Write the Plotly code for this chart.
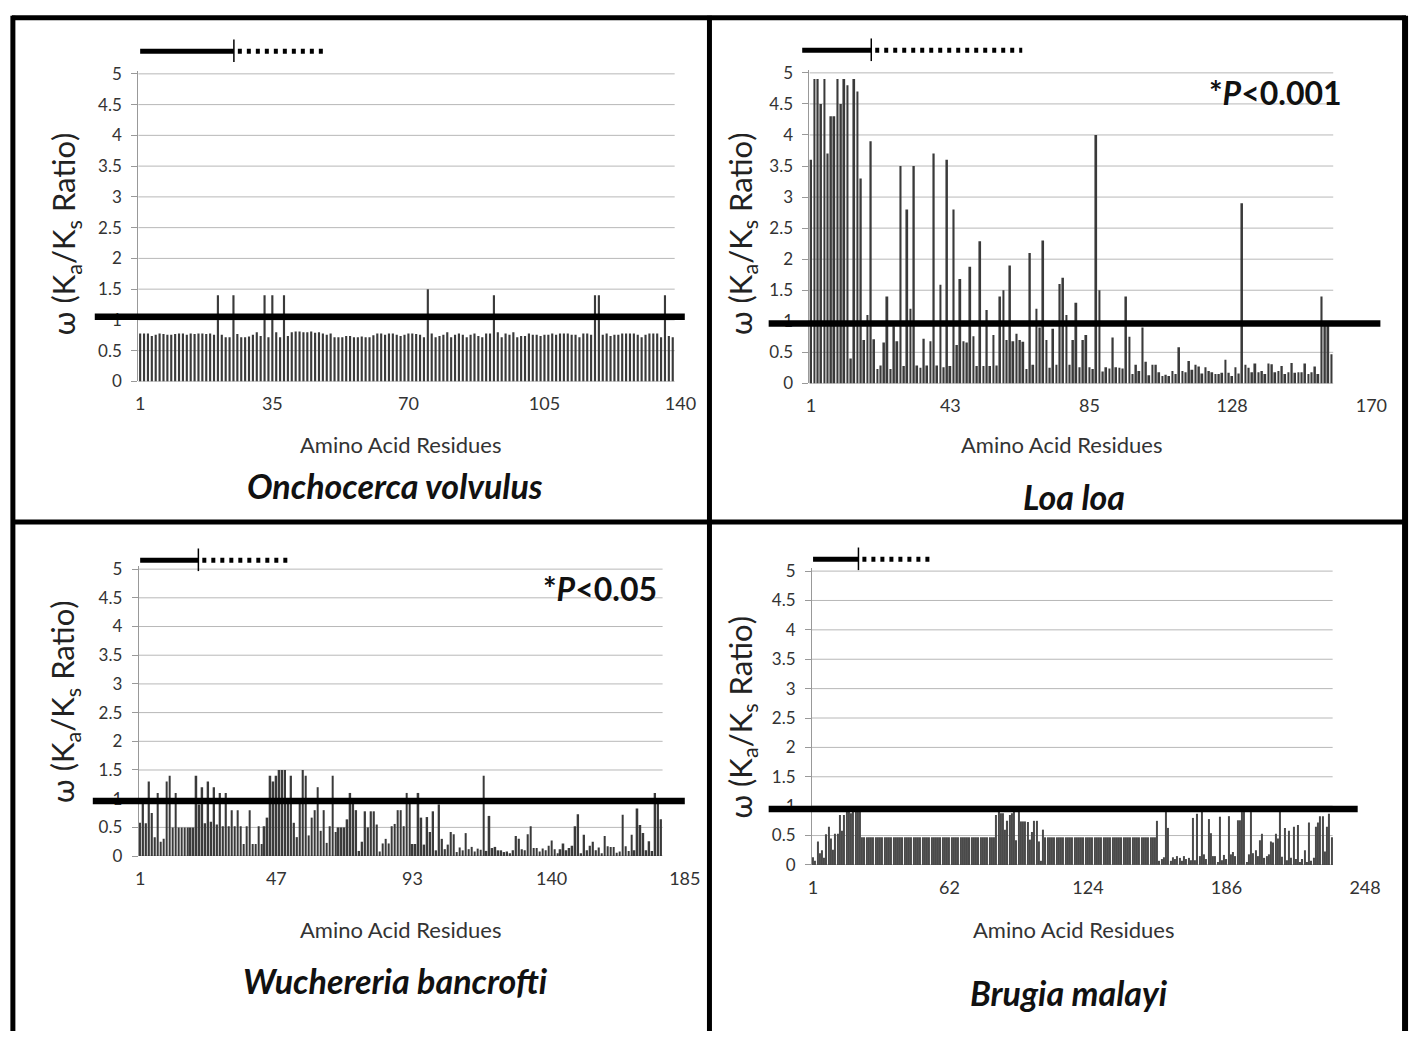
import plotly.graph_objects as go

W, H = 1424, 1041
FONT = "Lato"

# ---------------- data (omega = Ka/Ks per residue) ----------------
species = ["Onchocerca volvulus", "Loa loa", "Wuchereria bancrofti", "Brugia malayi"]
p_labels = [None, "*P<0.001", "*P<0.05", None]

ov_ticks = [1, 35, 70, 105, 140]
ll_ticks = [1, 43, 85, 128, 170]
wb_ticks = [1, 47, 93, 140, 185]
bm_ticks = [1, 62, 124, 186, 248]

y_ticks = [0, 0.5, 1, 1.5, 2, 2.5, 3, 3.5, 4, 4.5, 5]
y_ticktext = ["0", "0.5", "1", "1.5", "2", "2.5", "3", "3.5", "4", "4.5", "5"]

# threshold (omega ~ 1) line as drawn in each panel
thresholds = [1.05, 0.965, 0.96, 0.95]

ov_omega = [
    0.78, 0.78, 0.78, 0.74, 0.76, 0.78, 0.77, 0.76, 0.76, 0.77,
    0.78, 0.78, 0.76, 0.78, 0.77, 0.78, 0.78, 0.77, 0.78, 0.76,
    1.40, 0.76, 0.72, 0.72, 1.40, 0.77, 0.72, 0.72, 0.73, 0.76,
    0.80, 0.74, 1.40, 0.72, 1.40, 0.80, 0.72, 1.40, 0.74, 0.80,
    0.81, 0.81, 0.80, 0.80, 0.81, 0.79, 0.80, 0.78, 0.76, 0.78,
    0.72, 0.72, 0.72, 0.74, 0.74, 0.72, 0.72, 0.73, 0.72, 0.72,
    0.75, 0.78, 0.78, 0.76, 0.78, 0.78, 0.76, 0.74, 0.76, 0.78,
    0.78, 0.77, 0.76, 0.72, 1.50, 0.78, 0.72, 0.74, 0.76, 0.80,
    0.72, 0.76, 0.78, 0.76, 0.72, 0.76, 0.78, 0.74, 0.72, 0.78,
    0.78, 1.40, 0.80, 0.72, 0.78, 0.76, 0.80, 0.72, 0.74, 0.74,
    0.78, 0.76, 0.76, 0.74, 0.76, 0.76, 0.78, 0.76, 0.78, 0.78,
    0.78, 0.76, 0.76, 0.72, 0.78, 0.78, 0.76, 1.40, 1.40, 0.76,
    0.78, 0.74, 0.76, 0.76, 0.78, 0.78, 0.78, 0.78, 0.76, 0.72,
    0.76, 0.78, 0.78, 0.78, 0.72, 1.40, 0.74, 0.72,
]

ll_omega = [
    3.6, 4.9, 4.9, 4.5, 4.9, 3.7, 4.3, 4.3, 4.9, 4.5,
    4.9, 4.8, 0.4, 4.9, 4.7, 3.3, 0.7, 1.1, 3.9, 0.71,
    0.23, 0.29, 0.66, 1.4, 0.23, 0.92, 0.68, 3.5, 0.28, 2.8,
    1.2, 3.5, 0.29, 0.25, 0.72, 0.29, 0.68, 3.7, 0.29, 1.59,
    0.26, 3.6, 0.28, 2.8, 0.62, 1.68, 0.68, 0.66, 1.88, 0.76,
    0.28, 2.29, 0.28, 1.18, 0.28, 0.78, 0.29,
    1.4, 1.5, 0.7, 1.9, 0.68, 0.8, 0.7, 0.67, 0.23, 2.1,
    0.3, 1.2, 0.9, 2.3, 0.7, 0.25, 0.88, 0.3, 1.6, 1.7,
    1.1, 0.3, 0.7, 1.3, 0.26, 0.7, 0.78, 0.26, 0.23, 4.0,
    1.5, 0.19, 0.26, 0.24, 0.74, 0.26, 0.25, 0.24,
    1.4, 0.75, 0.15, 0.3, 0.2, 0.9, 0.35, 0.13, 0.3, 0.3,
    0.18, 0.12, 0.14, 0.12, 0.2, 0.15, 0.58, 0.2,
    0.18, 0.36, 0.22, 0.3, 0.27, 0.16, 0.26, 0.2, 0.18,
    0.15, 0.15, 0.17, 0.38, 0.17, 0.12, 0.26, 0.16, 2.9,
    0.3, 0.25, 0.18, 0.32, 0.18, 0.2, 0.15, 0.32, 0.31,
    0.18, 0.2, 0.28, 0.15, 0.18, 0.33, 0.17, 0.18,
    0.18, 0.32, 0.15, 0.18, 0.27, 0.15, 1.4, 0.95, 0.95,
    0.47,
]

wb_omega = [
    0.58, 0.93, 0.57, 1.3, 0.75, 0.33, 1.1, 0.25, 0.3, 1.3,
    1.4, 0.5, 1.1, 0.5, 0.5, 0.5, 0.5, 0.5, 0.5, 1.4,
    0.9, 1.2, 0.57, 1.3, 0.6, 1.2, 0.55, 1.1, 0.52, 1.1,
    0.52, 0.8, 0.52, 0.8, 0.52, 0.21, 0.52, 0.8, 0.21,
    0.21, 0.52, 0.21, 0.52, 0.67, 1.4, 1.3, 1.4, 1.5, 1.5,
    1.5, 0.95, 1.4, 0.58, 0.33, 1.0, 1.5, 1.4, 0.36, 0.67,
    0.8, 1.2, 0.44, 0.8, 0.23, 0.52, 1.4, 0.42, 0.5,
    0.5, 0.5, 0.64, 1.1, 0.98, 0.8, 0.09, 0.25, 0.78,
    0.5, 0.78, 0.78, 0.55, 0.08, 0.22, 0.3, 0.22, 0.52,
    0.56, 0.8, 0.8, 0.52, 1.1, 0.95, 0.21, 0.21, 1.1, 0.67,
    0.2, 0.68, 0.42, 0.78, 0.1, 0.9, 0.3, 0.12, 0.2, 0.42,
    0.38, 0.07, 0.15, 0.1, 0.4, 0.12, 0.16, 0.08, 0.13,
    0.11, 1.4, 0.09, 0.7, 0.14, 0.16, 0.1, 0.1, 0.07,
    0.08, 0.05, 0.1, 0.35, 0.3, 0.12, 0.1, 0.38, 0.52, 0.14,
    0.14, 0.08, 0.13, 0.1, 0.18, 0.27, 0.12, 0.05, 0.12,
    0.22, 0.1, 0.14, 0.18, 0.52, 0.73, 0.05, 0.37, 0.1, 0.18,
    0.25, 0.1, 0.15, 0.05, 0.35, 0.17, 0.16, 0.16, 0.06,
    0.08, 0.72, 0.17, 0.09, 0.37, 0.1, 0.83, 0.54, 0.4, 0.1,
    0.26, 0.09, 1.1, 0.95, 0.64,
]

bm_omega = [
    0.13, 0.07, 0.4, 0.2, 0.25, 0.12, 0.52, 0.65, 0.45, 0.26,
    0.53, 0.53, 0.85, 0.58, 0.85, 0.93, 0.95, 0.88, 0.93, 0.95,
    0.93, 0.9,
    0.47, 0.47, 0.47, 0.47, 0.47, 0.47, 0.47, 0.47, 0.47, 0.47,
    0.47, 0.47, 0.47, 0.47, 0.47, 0.47, 0.47, 0.47, 0.47, 0.47,
    0.47, 0.47, 0.47, 0.47, 0.47, 0.47, 0.47, 0.47, 0.47, 0.47,
    0.47, 0.47, 0.47, 0.47, 0.47, 0.47, 0.47, 0.47, 0.47, 0.47,
    0.47, 0.47, 0.47, 0.47, 0.47, 0.47, 0.47, 0.47, 0.47, 0.47,
    0.47, 0.47, 0.47, 0.47, 0.47, 0.47, 0.47, 0.47, 0.47, 0.47,
    0.85, 0.95, 0.88, 0.88, 0.6, 0.75, 0.85, 0.88, 0.9, 0.42,
    0.95, 0.74, 0.74, 0.74, 0.73, 0.43, 0.56, 0.75, 0.75, 0.4,
    0.07, 0.6,
    0.47, 0.47, 0.47, 0.47, 0.47, 0.47, 0.47, 0.47, 0.47, 0.47,
    0.47, 0.47, 0.47, 0.47, 0.47, 0.47, 0.47, 0.47, 0.47, 0.47,
    0.47, 0.47, 0.47, 0.47, 0.47, 0.47, 0.47, 0.47, 0.47, 0.47,
    0.47, 0.47, 0.47, 0.47, 0.47, 0.47, 0.47, 0.47, 0.47, 0.47,
    0.47, 0.47, 0.47, 0.47, 0.47, 0.47, 0.47, 0.47, 0.47, 0.47,
    0.75, 0.07, 0.1, 0.13, 0.9, 0.63, 0.07, 0.13, 0.1, 0.15,
    0.12, 0.07, 0.15, 0.1, 0.12, 0.08, 0.8, 0.08, 0.87, 0.15,
    0.95, 0.18, 0.1, 0.78, 0.54, 0.15, 0.15, 0.05, 0.82, 0.08,
    0.17, 0.1, 0.83, 0.18, 0.22, 0.15, 0.76, 0.76, 0.9, 0.9,
    0.05, 0.18, 0.9, 0.2, 0.25, 0.15, 0.42, 0.53, 0.12, 0.15,
    0.18, 0.4, 0.38, 0.53, 0.45, 0.9, 0.14, 0.63, 0.08, 0.58,
    0.12, 0.65, 0.1, 0.68, 0.05, 0.1, 0.25, 0.05, 0.72, 0.07,
    0.12, 0.65, 0.72, 0.83, 0.83, 0.23, 0.65, 0.87, 0.47,
]

omega_sets = [ov_omega, ll_omega, wb_omega, bm_omega]
tick_sets = [ov_ticks, ll_ticks, wb_ticks, bm_ticks]

# ---------------- layout geometry (pixels) ----------------
geom = [
    dict(p1=138, ppc=3.94, y0=380, y5=67, thr_x=(92, 690), ytitle=(62, 230), xtitle=(402, 444),
         sp=(396, 486), sig=(138, 233, 328, 44), pv=None, bw=0.55, col="#3a3a3a"),
    dict(p1=818, ppc=3.36, y0=382, y5=66, thr_x=(775, 1395), ytitle=(748, 230), xtitle=(1072, 444),
         sp=(1084, 497), sig=(809, 879, 1032, 43), pv=(1358, 86), bw=0.55, col="#3a3a3a"),
    dict(p1=138, ppc=3.0, y0=863, y5=571, thr_x=(90, 690), ytitle=(62, 706), xtitle=(402, 938),
         sp=(397, 990), sig=(138, 197, 290, 562), pv=(664, 591), bw=0.55, col="#3a3a3a"),
    dict(p1=820, ppc=2.265, y0=872, y5=573, thr_x=(775, 1372), ytitle=(748, 722), xtitle=(1084, 938),
         sp=(1079, 1002), sig=(820, 866, 938, 561), pv=None, bw=0.5, col="#4a4a4a"),
]


def fx(v):
    return v / W


def fy(v):
    return 1 - v / H


fig = go.Figure()
shapes = []
annotations = []
layout = {}

YTOP = 5.05
for i in range(4):
    k = i + 1
    g = geom[i]
    vals = omega_sets[i]
    ticks = tick_sets[i]
    n = len(vals)
    L = ticks[-1]
    left = g["p1"] - 0.5 * g["ppc"]
    right = g["p1"] + (L - 0.5) * g["ppc"]
    ppu = (g["y0"] - g["y5"]) / 5.0
    ytop_px = g["y0"] - YTOP * ppu
    xa = f"x{k}" if k > 1 else "x"
    ya = f"y{k}" if k > 1 else "y"

    fig.add_trace(go.Bar(
        x=list(range(1, n + 1)), y=vals, xaxis=xa, yaxis=ya, width=g["bw"],
        marker=dict(color=g["col"], line=dict(width=0)), showlegend=False,
    ))
    # category tick marks under the axis
    fig.add_trace(go.Scatter(
        x=[j + 0.5 for j in range(n + 1)], y=[-4.2 / ppu] * (n + 1), xaxis=xa, yaxis=ya,
        mode="markers", cliponaxis=False, showlegend=False, hoverinfo="skip",
        marker=dict(symbol="line-ns", size=8, color="#a0a0a0", line=dict(width=1, color="#a0a0a0")),
    ))

    layout[f"xaxis{k if k > 1 else ''}"] = dict(
        domain=[fx(left), fx(right)], range=[0.5, L + 0.5], anchor=ya,
        tickmode="array", tickvals=ticks, ticktext=[str(t) for t in ticks], ticks="",
        showgrid=False, zeroline=False, showline=False, ticklabelstandoff=10,
        tickfont=dict(family=FONT, size=18, color="#333333"),
    )
    layout[f"yaxis{k if k > 1 else ''}"] = dict(
        domain=[fy(g["y0"]), fy(ytop_px)], range=[0, YTOP], anchor=xa,
        tickmode="array", tickvals=y_ticks, ticktext=y_ticktext, ticks="outside", ticklen=6,
        tickcolor="#999999", showline=True, linecolor="#999999", linewidth=1,
        showgrid=False, zeroline=False, ticklabelstandoff=6,
        tickfont=dict(family=FONT, size=17, color="#333333"),
    )
    # gridlines (only under the bars)
    for yv in y_ticks:
        shapes.append(dict(type="line", xref=xa, yref=ya, x0=0.5, x1=n + 0.5, y0=yv, y1=yv,
                           line=dict(color="#999999" if yv == 0 else "#b8b8b8", width=1), layer="below"))
    # threshold line
    shapes.append(dict(type="line", xref="paper", yref=ya, x0=fx(g["thr_x"][0]), x1=fx(g["thr_x"][1]),
                       y0=thresholds[i], y1=thresholds[i], line=dict(color="black", width=6.5), layer="above"))
    # signal-peptide / domain indicator
    s0, s1, s2, sy = g["sig"]
    shapes.append(dict(type="line", xref="paper", yref="paper", x0=fx(s0), x1=fx(s1), y0=fy(sy), y1=fy(sy),
                       line=dict(color="black", width=5)))
    shapes.append(dict(type="line", xref="paper", yref="paper", x0=fx(s1), x1=fx(s1), y0=fy(sy - 12), y1=fy(sy + 11),
                       line=dict(color="black", width=1.5)))
    shapes.append(dict(type="line", xref="paper", yref="paper", x0=fx(s1 + 4), x1=fx(s2), y0=fy(sy), y1=fy(sy),
                       line=dict(color="black", width=5, dash="4px,5px")))

    annotations.append(dict(xref="paper", yref="paper", x=fx(g["ytitle"][0]), y=fy(g["ytitle"][1]),
                            text="ω (K<sub>a</sub>/K<sub>s</sub> Ratio)", textangle=-90, showarrow=False,
                            font=dict(family=FONT, size=31, color="#222222"), xanchor="center", yanchor="middle"))
    annotations.append(dict(xref="paper", yref="paper", x=fx(g["xtitle"][0]), y=fy(g["xtitle"][1]),
                            text="Amino Acid Residues", showarrow=False,
                            font=dict(family=FONT, size=22, color="#333333"), xanchor="center", yanchor="middle"))
    annotations.append(dict(xref="paper", yref="paper", x=fx(g["sp"][0]), y=fy(g["sp"][1]),
                            text=f"<b><i>{species[i]}</i></b>", showarrow=False,
                            font=dict(family=FONT, size=34, color="#111111"), xanchor="center", yanchor="middle"))
    if p_labels[i]:
        rest = p_labels[i][2:]
        annotations.append(dict(xref="paper", yref="paper", x=fx(g["pv"][0]), y=fy(g["pv"][1]),
                                text=f"<b>*<i>P</i>{rest.replace('<', '&lt;')}</b>", showarrow=False,
                                font=dict(family=FONT, size=32, color="#111111"), xanchor="right", yanchor="middle"))

# panel frame
frame = [
    (8, 10, 1421, 10, 5), (9, 8, 9, 1041, 5), (1420, 8, 1420, 1041, 6),
    (715, 8, 715, 1041, 5), (8, 523, 1421, 523, 5),
]
for x0, y0, x1, y1, w in frame:
    shapes.append(dict(type="line", xref="paper", yref="paper", x0=fx(x0), x1=fx(x1), y0=fy(y0), y1=fy(y1),
                       line=dict(color="black", width=w)))

fig.update_layout(
    width=W, height=H, margin=dict(l=0, r=0, t=0, b=0),
    paper_bgcolor="white", plot_bgcolor="white",
    shapes=shapes, annotations=annotations, showlegend=False,
    **layout,
)

fig.write_html("out.html")
